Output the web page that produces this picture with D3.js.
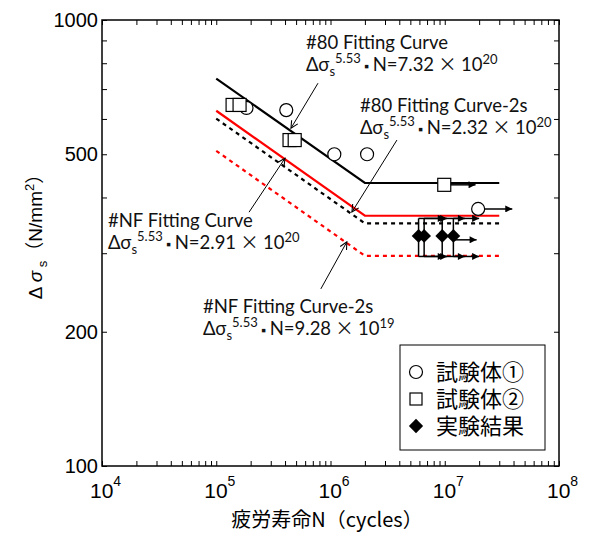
<!DOCTYPE html>
<html>
<head>
<meta charset="utf-8">
<script src="https://cdn.jsdelivr.net/npm/d3@7"></script>
<style>
  body { margin: 0; background: #fff; }
  #chart svg { display: block; }
</style>
</head>
<body>
<div id="chart"></div>
<script>
// fitting curves (N, stress) - straight in log-log, knee at 2e6
const lineN = [1e5, 2e6, 3e7]
const fit80 = [739, 431, 431]
const fitNF = [626, 364, 364]
const fit80_2s = [601, 350, 350]
const fitNF_2s = [509, 296, 296]

// 試験体①
const circleN = [1.84e5, 4.1e5, 1.08e6, 2.09e6, 1.96e7]
const circleS = [635, 628, 500, 500, 377]
const circleTo = [null, null, null, null, 3.9e7]

// 試験体②
const squareN = [1.39e5, 1.6e5, 4.38e5, 4.86e5, 9.9e6]
const squareS = [645, 645, 538, 538, 427]
const squareTo = [null, null, null, null, 1.86e7]

// 実験結果 (runout ranges)
const diamondN = [5.9e6, 6.6e6, 9.5e6, 1.19e7]
const diamondS = [328, 328, 328, 328]
const diamondHi = [359, 359, 359, 359]
const diamondLo = [295, 295, 295, 295]
const diamondTo = [1.0e7, 1.05e7, 1.5e7, 2.0e7]
const diamondMidTo = [null, null, null, 1.9e7]

const xMajor = [1e4, 1e5, 1e6, 1e7, 1e8]
const yMajor = [100, 200, 500, 1000]
const yMinor = [300, 400, 600, 700, 800, 900]

const W = 597, H = 534
const margin = {top: 20, right: 38, bottom: 68, left: 102}
const width = W - margin.left - margin.right,
      height = H - margin.top - margin.bottom

const svg = d3.select("#chart").append("svg")
  .attr("width", W).attr("height", H)

const g = svg.append("g")
  .attr("transform", "translate(" + margin.left + "," + margin.top + ")")

const x = d3.scaleLog().domain([1e4, 1e8]).range([0, width])
const y = d3.scaleLog().domain([100, 1000]).range([height, 0])

// arrow heads
const defs = svg.append("defs")
defs.append("marker")
  .attr("id", "tri").attr("viewBox", "0 0 10 10")
  .attr("refX", 10).attr("refY", 5)
  .attr("markerWidth", 10).attr("markerHeight", 7)
  .attr("markerUnits", "userSpaceOnUse")
  .attr("orient", "auto")
  .append("path").attr("d", "M0,0L10,5L0,10Z").attr("fill", "#000")
defs.append("marker")
  .attr("id", "open").attr("viewBox", "0 0 10 10")
  .attr("refX", 9).attr("refY", 5)
  .attr("markerWidth", 9).attr("markerHeight", 9)
  .attr("markerUnits", "userSpaceOnUse")
  .attr("orient", "auto")
  .append("path").attr("d", "M1,1L9,5L1,9").attr("fill", "none")
  .attr("stroke", "#000").attr("stroke-width", 1.2)

// minor ticks on x
const xMinor = []
xMajor.slice(0, -1).forEach(function (d) {
  for (let k = 2; k <= 9; k++) xMinor.push(d * k)
})

function tickStyle(sel) {
  sel.select(".domain").remove()
  sel.selectAll("line").attr("stroke", "#000").attr("stroke-width", 1)
}

g.append("g").attr("transform", "translate(0," + height + ")")
  .call(d3.axisBottom(x).tickValues(xMinor.concat(xMajor)).tickSizeInner(-5).tickSizeOuter(0).tickFormat(""))
  .call(tickStyle)
g.append("g")
  .call(d3.axisTop(x).tickValues(xMinor.concat(xMajor)).tickSizeInner(-5).tickSizeOuter(0).tickFormat(""))
  .call(tickStyle)
g.append("g").attr("transform", "translate(" + width + ",0)")
  .call(d3.axisRight(y).tickValues(yMinor.concat(yMajor)).tickSizeInner(-5).tickSizeOuter(0).tickFormat(""))
  .call(tickStyle)

const yAxis = g.append("g")
  .call(d3.axisLeft(y).tickValues(yMinor.concat(yMajor)).tickSizeInner(-5).tickSizeOuter(0)
    .tickPadding(4)
    .tickFormat(function (d) { return yMajor.includes(d) ? d3.format("d")(d) : "" }))
  .call(tickStyle)
yAxis.selectAll("text")
  .attr("font-family", "'Liberation Sans', Arial, sans-serif")
  .attr("font-size", 20).attr("fill", "#000")

// frame
g.append("rect").attr("width", width).attr("height", height)
  .attr("fill", "none").attr("stroke", "#000").attr("stroke-width", 1.5)

// x tick labels 10^n
const xl = g.append("g")
  .attr("font-family", "'Liberation Sans', Arial, sans-serif").attr("fill", "#000")
xMajor.forEach(function (d) {
  const t = xl.append("text")
    .attr("x", x(d) - 12).attr("y", height + 32)
    .attr("font-size", 21).attr("text-anchor", "start")
  t.append("tspan").text("10")
  t.append("tspan").attr("font-size", 14).attr("dy", -12).text(Math.round(Math.log10(d)))
})

// fitting lines
const line = d3.line()
  .x(function (d) { return x(d[0]) })
  .y(function (d) { return y(d[1]) })

const fits = [
  {v: fitNF_2s, color: "#ff0000", dash: "4,4"},
  {v: fit80_2s, color: "#000", dash: "4,4"},
  {v: fitNF, color: "#ff0000", dash: null},
  {v: fit80, color: "#000", dash: null}
]
fits.forEach(function (f) {
  g.append("path")
    .datum(d3.zip(lineN, f.v))
    .attr("d", line)
    .attr("fill", "none")
    .attr("stroke", f.color)
    .attr("stroke-width", 2.2)
    .attr("stroke-dasharray", f.dash)
})

// runout arrows
function runout(n, s, to) {
  g.append("line")
    .attr("x1", x(n)).attr("y1", y(s))
    .attr("x2", x(to)).attr("y2", y(s))
    .attr("stroke", "#000").attr("stroke-width", 1.5)
    .attr("marker-end", "url(#tri)")
}

diamondN.forEach(function (n, i) {
  g.append("line")
    .attr("x1", x(n)).attr("x2", x(n))
    .attr("y1", y(diamondHi[i])).attr("y2", y(diamondLo[i]))
    .attr("stroke", "#000").attr("stroke-width", 1.5)
  runout(n, diamondHi[i], diamondTo[i])
  runout(n, diamondLo[i], diamondTo[i])
  if (diamondMidTo[i]) runout(n, diamondS[i] * 0.98, diamondMidTo[i])
})
circleN.forEach(function (n, i) { if (circleTo[i]) runout(n, circleS[i], circleTo[i]) })
squareN.forEach(function (n, i) { if (squareTo[i]) runout(n, squareS[i], squareTo[i]) })

// markers
g.append("g").selectAll("path")
  .data(d3.zip(diamondN, diamondS))
  .join("path")
  .attr("transform", function (d) { return "translate(" + x(d[0]) + "," + y(d[1]) + ")" })
  .attr("d", d3.symbol(d3.symbolDiamond2, 120))
  .attr("fill", "#000")

g.append("g").selectAll("circle")
  .data(d3.zip(circleN, circleS))
  .join("circle")
  .attr("cx", function (d) { return x(d[0]) })
  .attr("cy", function (d) { return y(d[1]) })
  .attr("r", 6.5)
  .attr("fill", "#fff").attr("stroke", "#000").attr("stroke-width", 1.2)

g.append("g").selectAll("rect")
  .data(d3.zip(squareN, squareS))
  .join("rect")
  .attr("x", function (d) { return x(d[0]) - 6.5 })
  .attr("y", function (d) { return y(d[1]) - 6.5 })
  .attr("width", 13).attr("height", 13)
  .attr("fill", "#fff").attr("stroke", "#000").attr("stroke-width", 1.2)

// annotations
const annoFont = "Lato, 'Open Sans', sans-serif"
const annos = [
  {name: "#80 Fitting Curve", c: "7.32", e: "20", tx: 306, ty: 49, tip: [4.51e5, 572], tail: [27, -45]},
  {name: "#80 Fitting Curve-2s", c: "2.32", e: "20", tx: 360, ty: 112, tip: [1.54e6, 371], tail: [45, -72]},
  {name: "#NF Fitting Curve", c: "2.91", e: "20", tx: 108, ty: 227, tip: [4.0e5, 490], tail: [-36, 54]},
  {name: "#NF Fitting Curve-2s", c: "9.28", e: "19", tx: 203, ty: 313, tip: [1.39e6, 318], tail: [-26, 47]}
]
annos.forEach(function (a) {
  const tipX = margin.left + x(a.tip[0]), tipY = margin.top + y(a.tip[1])
  svg.append("line")
    .attr("x1", tipX + a.tail[0]).attr("y1", tipY + a.tail[1])
    .attr("x2", tipX).attr("y2", tipY)
    .attr("stroke", "#000").attr("stroke-width", 1)
    .attr("marker-end", "url(#open)")
  const t = svg.append("g").attr("font-family", annoFont).attr("font-size", 18.5).attr("fill", "#111")
  t.append("text").attr("x", a.tx).attr("y", a.ty).text(a.name)
  const f = t.append("text").attr("x", a.tx).attr("y", a.ty + 22)
  f.append("tspan").text("Δσ")
  f.append("tspan").attr("font-size", 13).attr("dy", 5).text("s")
  f.append("tspan").attr("font-size", 13).attr("dy", -13).text("5.53")
  f.append("tspan").attr("dy", 8).attr("font-size", 13).text(" ▪ ")
  f.append("tspan").attr("dy", 0).text("N=" + a.c)
  f.append("tspan").attr("font-family", "'Noto Sans CJK JP', sans-serif").text(" × ")
  f.append("tspan").text("10")
  f.append("tspan").attr("font-size", 13).attr("dy", -7).text(a.e)
})

// legend
const lg = svg.append("g")
lg.append("rect").attr("x", 400).attr("y", 345).attr("width", 145).attr("height", 105)
  .attr("fill", "#fff").attr("stroke", "#000").attr("stroke-width", 1)
const legItems = ["試験体①", "試験体②", "実験結果"]
legItems.forEach(function (name, i) {
  const cy = 372 + i * 27
  if (i === 0) lg.append("circle").attr("cx", 416).attr("cy", cy).attr("r", 6.5)
    .attr("fill", "#fff").attr("stroke", "#000").attr("stroke-width", 1.2)
  if (i === 1) lg.append("rect").attr("x", 410).attr("y", cy - 6).attr("width", 12).attr("height", 12)
    .attr("fill", "#fff").attr("stroke", "#000").attr("stroke-width", 1.2)
  if (i === 2) lg.append("path").attr("transform", "translate(416," + cy + ")")
    .attr("d", d3.symbol(d3.symbolDiamond2, 130)).attr("fill", "#000")
  lg.append("text").attr("x", 436).attr("y", cy + 8)
    .attr("font-family", "'Noto Sans CJK JP', sans-serif").attr("font-size", 22)
    .attr("fill", "#000").text(name)
})

// axis titles
const yt = svg.append("text")
  .attr("transform", "translate(42,232) rotate(-90)")
  .attr("text-anchor", "middle")
  .attr("font-family", "'Liberation Sans', Arial, sans-serif").attr("font-size", 19).attr("fill", "#000")
yt.append("tspan").text("Δ ")
yt.append("tspan").attr("font-style", "italic").text("σ")
yt.append("tspan").attr("font-size", 13).attr("dy", 5).text(" s")
yt.append("tspan").attr("dy", -5).attr("font-family", "'Noto Sans CJK JP', sans-serif").text("（")
yt.append("tspan").text("N/mm")
yt.append("tspan").attr("font-size", 13).attr("dy", -8).text("2")
yt.append("tspan").attr("dy", 8).attr("font-family", "'Noto Sans CJK JP', sans-serif").text("）")

svg.append("text")
  .attr("x", 327).attr("y", 527).attr("text-anchor", "middle")
  .attr("font-family", "'Noto Sans CJK JP', sans-serif").attr("font-size", 20).attr("fill", "#000")
  .text("疲労寿命N（cycles）")
</script>
</body>
</html>
